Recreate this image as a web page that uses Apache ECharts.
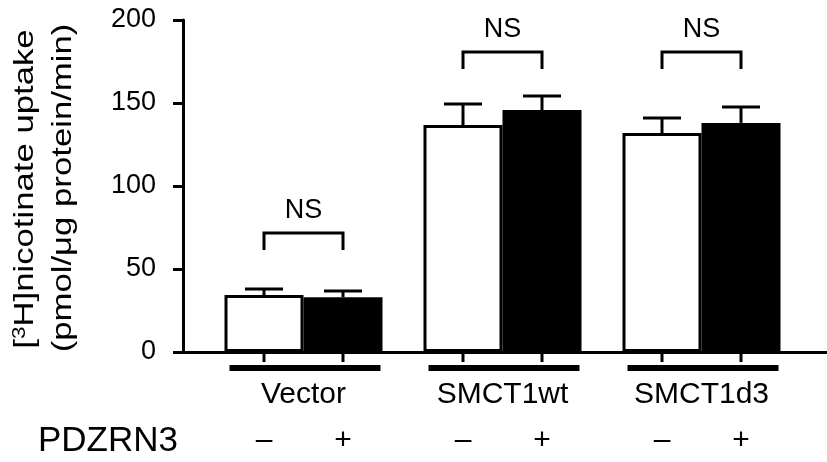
<!DOCTYPE html>
<html>
<head>
<meta charset="utf-8">
<script src="https://cdn.jsdelivr.net/npm/echarts@6/dist/echarts.min.js"></script>
<style>html,body{margin:0;padding:0;background:#fff}#c{width:827px;height:462px}</style>
</head>
<body>
<div id="c"></div>
<script>
const categories = ['Vector', 'SMCT1wt', 'SMCT1d3'];
const minusValues = [34.3, 136.7, 131.9];
const minusErrors = [3.7, 12.7, 9.1];
const plusValues = [33.0, 145.8, 138.0];
const plusErrors = [3.7, 8.4, 9.6];
const nsLevels = [71.7, 180.7, 180.7];
const nsText = 'NS';
const pdzSigns = ['–', '+'];
const rowLabel = 'PDZRN3';
const yTitle1 = '[{sup|3}H]nicotinate uptake';
const yTitle2 = '(pmol/μg protein/min)';

const FONT = '"Liberation Sans", Arial, sans-serif';
const BAR_W = 79;
const HALF = BAR_W / 2;

const chart = echarts.init(document.getElementById('c'), null, {renderer: 'canvas'});

const customData = categories.map((c, i) => [i, minusValues[i], minusErrors[i], plusValues[i], plusErrors[i], nsLevels[i]]);

function renderItem(params, api) {
  const i = api.value(0);
  const wv = api.value(1), we = api.value(2), bv = api.value(3), be = api.value(4), ns = api.value(5);
  const base = api.coord([i, 0]);
  const cx = base[0];
  const y0 = base[1];
  const xs = [cx - HALF, cx + HALF];
  const children = [];
  const ls = {stroke: '#000', lineWidth: 3};
  [[wv, we], [bv, be]].forEach((pair, k) => {
    const yTop = api.coord([i, pair[0]])[1];
    const yErr = api.coord([i, pair[0] + pair[1]])[1];
    children.push({type: 'line', shape: {x1: xs[k], y1: yTop, x2: xs[k], y2: yErr}, style: ls});
    children.push({type: 'line', shape: {x1: xs[k] - 19, y1: yErr, x2: xs[k] + 19, y2: yErr}, style: ls});
  });
  const yb = api.coord([i, ns])[1];
  children.push({type: 'polyline', shape: {points: [[xs[0], yb + 17], [xs[0], yb], [xs[1], yb], [xs[1], yb + 17]]}, style: {stroke: '#000', lineWidth: 3, fill: null}});
  children.push({type: 'text', x: cx, y: yb - 22, style: {text: nsText, fontSize: 27, fontFamily: FONT, fill: '#000', align: 'center', verticalAlign: 'middle'}});
  xs.forEach(x => children.push({type: 'line', shape: {x1: x, y1: y0, x2: x, y2: y0 + 10}, style: ls}));
  children.push({type: 'rect', shape: {x: cx - 74, y: y0 + 13, width: 151, height: 6}, style: {fill: '#000'}});
  xs.forEach((x, k) => children.push({type: 'text', x: x, y: y0 + 89, style: {text: pdzSigns[k], fontSize: 30, fontFamily: FONT, fill: '#000', align: 'center', verticalAlign: 'middle'}}));
  return {type: 'group', children: children};
}

const option = {
  animation: false,
  backgroundColor: '#fff',
  grid: [
    {left: 204, right: 26, top: 20, bottom: 110},
    {left: 183, right: 0, top: 20, bottom: 110}
  ],
  xAxis: [
    {type: 'category', gridIndex: 0, data: categories, axisLine: {show: false}, axisTick: {show: false},
     axisLabel: {fontSize: 30, fontFamily: FONT, color: '#000', margin: 28}},
    {type: 'value', gridIndex: 1, min: 0, max: 1, axisLine: {show: true, lineStyle: {color: '#000', width: 3}},
     axisTick: {show: false}, axisLabel: {show: false}, splitLine: {show: false}}
  ],
  yAxis: [
    {type: 'value', gridIndex: 0, min: 0, max: 200, interval: 50, offset: 21,
     axisLine: {show: true, lineStyle: {color: '#000', width: 3}},
     axisTick: {show: true, length: 10, lineStyle: {color: '#000', width: 3}},
     axisLabel: {fontSize: 27, fontFamily: FONT, color: '#000', margin: 27},
     splitLine: {show: false}},
    {type: 'value', gridIndex: 1, min: 0, max: 200, show: false}
  ],
  series: [
    {type: 'bar', xAxisIndex: 0, yAxisIndex: 0, data: minusValues, barWidth: BAR_W, barGap: '0%',
     itemStyle: {color: '#fff', borderColor: '#000', borderWidth: 3}},
    {type: 'bar', xAxisIndex: 0, yAxisIndex: 0, data: plusValues, barWidth: BAR_W, barGap: '0%',
     itemStyle: {color: '#000', borderColor: '#000', borderWidth: 0}},
    {type: 'custom', xAxisIndex: 0, yAxisIndex: 0, data: customData, renderItem: renderItem, clip: false, z: 5,
     encode: {x: 0, y: 1}}
  ],
  graphic: [
    {type: 'text', x: 25, y: 189, rotation: Math.PI / 2, scaleX: 1.24,
     style: {text: yTitle1, fontSize: 28, fontFamily: FONT, fill: '#000', align: 'center', verticalAlign: 'middle',
             rich: {sup: {fontSize: 18, fontFamily: FONT, verticalAlign: 'top', padding: [0, 0, 10, 0]}}}},
    {type: 'text', x: 63, y: 188, rotation: Math.PI / 2, scaleX: 1.24,
     style: {text: yTitle2, fontSize: 28, fontFamily: FONT, fill: '#000', align: 'center', verticalAlign: 'middle'}},
    {type: 'text', x: 38, y: 441, style: {text: rowLabel, fontSize: 35, fontFamily: FONT, fill: '#000', align: 'left', verticalAlign: 'middle'}}
  ]
};
chart.setOption(option);
</script>
</body>
</html>
